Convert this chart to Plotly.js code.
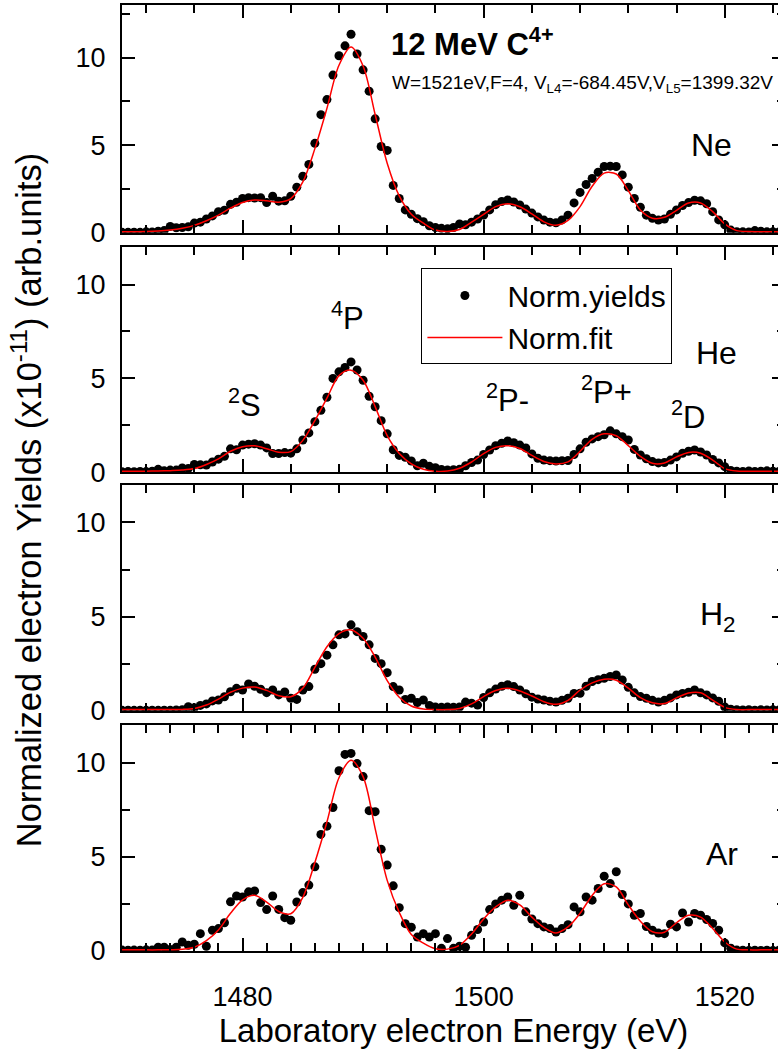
<!DOCTYPE html>
<html>
<head>
<meta charset="utf-8">
<script src="https://cdn.plot.ly/plotly-3.0.1.min.js"></script>
<style>
  html, body { margin: 0; padding: 0; overflow: hidden; background: #fff; }
  #chart { width: 800px; height: 1051px; }
</style>
</head>
<body>
<div id="chart"></div>
<script>
// Laboratory electron energy (eV) of each measured point
const energy = [
  1470.0,1470.5,1471.0,1471.5,1472.0,1472.5,1473.0,1473.5,1474.0,1474.5,
  1475.0,1475.5,1476.0,1476.5,1477.0,1477.5,1478.0,1478.5,1479.0,1479.5,
  1480.0,1480.5,1481.0,1481.5,1482.0,1482.5,1483.0,1483.5,1484.0,1484.5,
  1485.0,1485.5,1486.0,1486.5,1487.0,1487.5,1488.0,1488.5,1489.0,1489.5,
  1490.0,1490.5,1491.0,1491.5,1492.0,1492.5,1493.0,1493.5,1494.0,1494.5,
  1495.0,1495.5,1496.0,1496.5,1497.0,1497.5,1498.0,1498.5,1499.0,1499.5,
  1500.0,1500.5,1501.0,1501.5,1502.0,1502.5,1503.0,1503.5,1504.0,1504.5,
  1505.0,1505.5,1506.0,1506.5,1507.0,1507.5,1508.0,1508.5,1509.0,1509.5,
  1510.0,1510.5,1511.0,1511.5,1512.0,1512.5,1513.0,1513.5,1514.0,1514.5,
  1515.0,1515.5,1516.0,1516.5,1517.0,1517.5,1518.0,1518.5,1519.0,1519.5,
  1520.0,1520.5,1521.0,1521.5,1522.0,1522.5,1523.0,1523.5,1524.0,1524.5
];

// Energies at which the fitted curves are tabulated (eV)
const energyFit = [
  1470,1471,1472,1473,1474,1475,1476,1477,1478,1479,
  1480,1481,1482,1483,1484,1485,1486,1487,1488,1489,
  1490,1491,1492,1493,1494,1495,1496,1497,1498,1499,
  1500,1501,1502,1503,1504,1505,1506,1507,1508,1509,
  1510,1511,1512,1513,1514,1515,1516,1517,1518,1519,
  1520,1521,1522,1523,1524,1525
];

// Normalized yields (x10^-11, arb. units), Ne target
const neYield = [
  0.02,0.02,0.03,0.02,0.05,0.04,0.08,0.12,0.36,0.28,
  0.30,0.34,0.55,0.60,0.78,0.96,1.20,1.28,1.62,1.74,
  1.95,2.00,1.98,2.00,1.72,2.08,1.80,1.82,2.08,2.60,
  3.22,3.90,5.10,6.74,7.60,9.00,10.10,10.67,11.33,10.20,
  9.30,8.08,6.50,4.92,4.70,2.70,1.95,1.30,1.05,0.80,
  0.63,0.40,0.30,0.25,0.22,0.30,0.50,0.45,0.60,0.78,
  1.00,1.30,1.60,1.78,1.87,1.75,1.58,1.35,1.12,0.90,
  0.72,0.60,0.57,0.73,1.00,1.70,2.30,2.75,3.10,3.45,
  3.78,3.80,3.78,3.30,2.60,1.95,1.45,1.00,0.82,0.72,
  0.78,1.05,1.30,1.55,1.72,1.85,1.82,1.65,1.20,0.73,
  0.45,0.15,0.06,0.05,0.04,0.12,0.08,0.05,0.06,0.04
];
const neFit = [
  0.06,0.06,0.07,0.10,0.16,0.26,0.42,0.68,1.00,1.40,
  1.72,1.86,1.82,1.74,1.95,2.90,4.80,7.10,9.56,10.60,
  9.52,6.75,3.97,2.10,1.05,0.54,0.15,0.07,0.18,0.60,
  1.05,1.49,1.65,1.48,1.08,0.62,0.42,0.70,1.49,2.65,
  3.40,3.35,2.40,1.30,0.83,0.88,1.28,1.70,1.70,1.20,
  0.50,0.12,0.07,0.06,0.06,0.06
];

// He target
const heYield = [
  0.03,0.04,0.03,0.05,0.04,0.06,0.16,0.08,0.12,0.12,
  0.23,0.20,0.42,0.40,0.39,0.55,0.70,0.85,1.25,1.20,
  1.45,1.50,1.52,1.45,1.30,1.00,1.00,1.05,1.02,1.25,
  1.72,2.10,2.70,3.30,4.00,5.00,5.35,5.58,5.88,5.45,
  4.90,4.05,3.49,2.75,2.05,1.20,0.90,0.80,0.60,0.35,
  0.48,0.32,0.25,0.15,0.12,0.14,0.16,0.35,0.52,0.65,
  0.95,1.19,1.42,1.55,1.67,1.58,1.45,1.30,0.98,0.75,
  0.65,0.62,0.60,0.62,0.63,0.95,1.25,1.60,1.78,1.90,
  2.00,2.21,2.05,1.90,1.72,1.22,0.92,0.72,0.57,0.50,
  0.52,0.65,0.82,1.01,1.12,1.19,1.08,0.92,0.68,0.50,
  0.30,0.10,0.06,0.05,0.07,0.05,0.06,0.08,0.06,0.05
];
const heFit = [
  0.06,0.06,0.06,0.07,0.09,0.12,0.20,0.42,0.72,1.12,
  1.36,1.41,1.26,1.07,1.10,1.70,2.75,3.95,5.15,5.44,
  4.90,3.50,1.95,1.00,0.45,0.16,0.06,0.07,0.22,0.55,
  1.00,1.33,1.42,1.27,0.90,0.58,0.45,0.56,1.12,1.76,
  2.05,1.95,1.42,0.85,0.48,0.50,0.82,1.06,1.02,0.65,
  0.20,0.07,0.06,0.06,0.06,0.06
];

// H2 target
const h2Yield = [
  0.02,0.03,0.02,0.03,0.02,0.03,0.02,0.03,0.02,0.04,
  0.05,0.21,0.16,0.28,0.36,0.52,0.57,0.74,1.01,1.19,
  1.10,1.42,1.30,1.14,0.96,1.10,0.84,1.00,0.66,0.60,
  1.10,1.28,2.20,2.50,2.95,3.50,4.03,4.08,4.56,4.20,
  3.94,3.50,2.78,2.50,2.02,1.28,1.10,0.60,0.66,0.43,
  0.57,0.28,0.20,0.18,0.20,0.18,0.20,0.46,0.40,0.30,
  0.70,0.95,1.15,1.30,1.38,1.28,1.10,0.90,0.72,0.62,
  0.57,0.50,0.46,0.55,0.66,0.92,0.93,1.30,1.55,1.65,
  1.72,1.82,1.90,1.63,1.24,0.95,0.75,0.66,0.55,0.46,
  0.55,0.68,0.84,0.92,0.98,1.10,0.95,0.84,0.68,0.50,
  0.20,0.08,0.05,0.04,0.05,0.03,0.05,0.04,0.05,0.04
];
const h2Fit = [
  0.06,0.06,0.06,0.06,0.06,0.07,0.12,0.30,0.62,0.98,
  1.20,1.26,1.08,0.80,0.74,1.20,2.30,3.40,4.10,4.29,
  3.85,2.85,1.60,0.72,0.25,0.09,0.06,0.06,0.12,0.36,
  0.75,1.07,1.19,1.05,0.78,0.48,0.34,0.55,1.10,1.48,
  1.67,1.62,1.20,0.70,0.42,0.38,0.68,0.94,0.95,0.56,
  0.18,0.06,0.06,0.06,0.06,0.06
];

// Ar target
const arYield = [
  0.05,0.04,0.05,0.04,0.06,0.05,0.20,0.20,0.08,0.20,
  0.48,0.30,0.36,0.92,0.25,1.10,1.19,1.50,2.61,2.92,
  2.87,3.14,3.19,2.57,2.20,2.92,2.21,1.77,1.63,2.60,
  3.10,3.50,4.47,6.19,6.63,7.62,9.57,10.44,10.49,9.95,
  9.26,7.45,7.40,5.40,4.56,3.46,2.30,1.45,1.26,0.74,
  0.92,0.74,0.92,0.14,0.66,0.14,0.25,0.20,0.83,1.14,
  1.54,2.20,2.50,2.70,2.87,2.43,2.96,2.08,1.70,1.45,
  1.28,1.19,1.01,1.19,1.40,2.34,2.08,2.87,2.70,3.32,
  3.97,3.58,4.21,3.00,2.50,1.90,1.99,1.30,1.10,0.95,
  0.92,1.42,1.28,2.02,1.54,1.99,1.90,1.67,1.46,1.10,
  0.43,0.15,0.05,0.04,0.03,0.04,0.03,0.04,0.03,0.04
];
const arFit = [
  0.06,0.06,0.06,0.06,0.07,0.09,0.20,0.55,1.12,2.00,
  2.72,2.96,2.60,2.10,1.98,2.85,4.70,6.85,9.20,10.13,
  9.26,6.50,3.75,2.05,0.88,0.42,0.12,0.10,0.30,0.90,
  1.70,2.34,2.70,2.45,1.80,1.25,0.96,1.28,2.00,2.95,
  3.57,3.40,2.45,1.58,1.02,1.00,1.50,1.90,1.80,1.20,
  0.48,0.10,0.06,0.06,0.06,0.06
];

const targets = ['Ne', 'He', 'H<sub>2</sub>', 'Ar'];
const yieldSeries = [neYield, heYield, h2Yield, arYield];
const fitSeries = [neFit, heFit, h2Fit, arFit];

const FONT = 'Arial, "Liberation Sans", Helvetica, sans-serif';

const traces = [];
yieldSeries.forEach((ys, i) => {
  const ax = i === 0 ? '' : String(i + 1);
  traces.push({
    type: 'scatter', mode: 'markers', name: 'Norm.yields',
    x: energy, y: ys, xaxis: 'x' + ax, yaxis: 'y' + ax,
    marker: { color: '#000', size: 9 },
    legendgroup: 'yields', showlegend: i === 0, hoverinfo: 'x+y'
  });
  traces.push({
    type: 'scatter', mode: 'lines', name: 'Norm.fit',
    x: energyFit, y: fitSeries[i], xaxis: 'x' + ax, yaxis: 'y' + ax,
    line: { color: '#ff0000', width: 1.5, shape: 'spline', smoothing: 0.9 },
    legendgroup: 'fit', showlegend: i === 0, hoverinfo: 'x+y'
  });
});

// vertical extent of each panel (paper fraction) and its y range
const domains = [[0.7593, 1], [0.5060, 0.7442], [0.2540, 0.4928], [0, 0.2389]];
const yMax = [13, 12, 12, 12];

const layout = {
  width: 800, height: 1051,
  margin: { l: 122, r: 15, t: 5, b: 100 },
  paper_bgcolor: '#fff', plot_bgcolor: '#fff',
  font: { family: FONT, color: '#000', size: 27 },
  showlegend: true,
  legend: {
    x: 0.4516, y: 0.7215, xanchor: 'left', yanchor: 'top',
    bgcolor: '#fff', bordercolor: '#000', borderwidth: 1,
    font: { family: FONT, size: 30, color: '#000' },
    itemwidth: 75, tracegroupgap: 0
  },
  annotations: []
};

for (let i = 0; i < 4; i++) {
  const ax = i === 0 ? '' : String(i + 1);
  layout['xaxis' + ax] = {
    anchor: 'y' + ax, domain: [0, 1], range: [1470, 1525],
    showline: true, linewidth: 2, linecolor: '#000', mirror: 'allticks',
    ticks: 'inside', ticklen: 13, tickwidth: 2, tickcolor: '#000',
    dtick: 20, tick0: 0,
    minor: { ticks: 'inside', dtick: i === 3 ? 2 : 4, tick0: 0, ticklen: 8, tickwidth: 2, tickcolor: '#000', showgrid: false },
    showgrid: false, zeroline: false,
    showticklabels: i === 3,
    tickfont: { family: FONT, size: 27, color: '#000' },
    ticklabelstandoff: 21
  };
  layout['yaxis' + ax] = {
    anchor: 'x' + ax, domain: domains[i], range: [0, yMax[i]],
    showline: true, linewidth: 2, linecolor: '#000', mirror: 'allticks',
    ticks: 'inside', ticklen: 13, tickwidth: 2, tickcolor: '#000',
    dtick: 5, tick0: 0,
    minor: { ticks: 'inside', dtick: 2.5, tick0: 0, ticklen: 8, tickwidth: 2, tickcolor: '#000', showgrid: false },
    showgrid: false, zeroline: false,
    tickfont: { family: FONT, size: 27, color: '#000' },
    ticklabelstandoff: 9
  };
}

layout.xaxis4.title = {
  text: 'Laboratory electron Energy (eV)',
  font: { family: FONT, size: 33, color: '#000' },
  standoff: 2
};

// shared y title for the four panels
layout.annotations.push({
  xref: 'paper', yref: 'paper', x: -0.144, y: 0.477,
  xanchor: 'center', yanchor: 'middle', textangle: -90, showarrow: false,
  text: 'Normalized electron Yields (x10<sup>-11</sup>) (arb.units)',
  font: { family: FONT, size: 34.5, color: '#000' }
});

// target gas in each panel
const targetPos = [[1518.9, 5.0], [1519.3, 6.36], [1519.45, 5.0], [1519.8, 5.16]];
targets.forEach((t, i) => {
  const ax = i === 0 ? '' : String(i + 1);
  layout.annotations.push({
    xref: 'x' + ax, yref: 'y' + ax, x: targetPos[i][0], y: targetPos[i][1],
    xanchor: 'center', yanchor: 'middle', showarrow: false, text: t,
    font: { family: FONT, size: 32, color: '#000' }
  });
});

// beam and spectrometer settings
layout.annotations.push({
  xref: 'x', yref: 'y', x: 1499.1, y: 10.9, xanchor: 'center', yanchor: 'middle',
  showarrow: false, text: '<b>12 MeV C<sup>4+</sup></b>',
  font: { family: FONT, size: 31, color: '#000' }
});
layout.annotations.push({
  xref: 'x', yref: 'y', x: 1492.2, y: 8.5, xanchor: 'left', yanchor: 'middle',
  showarrow: false, text: 'W=1521eV,F=4, V<sub>L4</sub>=-684.45V,V<sub>L5</sub>=1399.32V',
  font: { family: FONT, size: 19, color: '#000' }
});

// resonance state labels (He panel)
const stateLabels = ['<sup>2</sup>S', '<sup>4</sup>P', '<sup>2</sup>P-', '<sup>2</sup>P+', '<sup>2</sup>D'];
const stateX = [1480.2, 1488.7, 1502.0, 1510.2, 1516.95];
const stateY = [3.69, 8.33, 3.96, 4.38, 3.05];
stateLabels.forEach((s, i) => {
  layout.annotations.push({
    xref: 'x2', yref: 'y2', x: stateX[i], y: stateY[i],
    xanchor: 'center', yanchor: 'middle', showarrow: false, text: s,
    font: { family: FONT, size: 31, color: '#000' }
  });
});

Plotly.newPlot('chart', traces, layout, { staticPlot: true, displayModeBar: false });
</script>
</body>
</html>
